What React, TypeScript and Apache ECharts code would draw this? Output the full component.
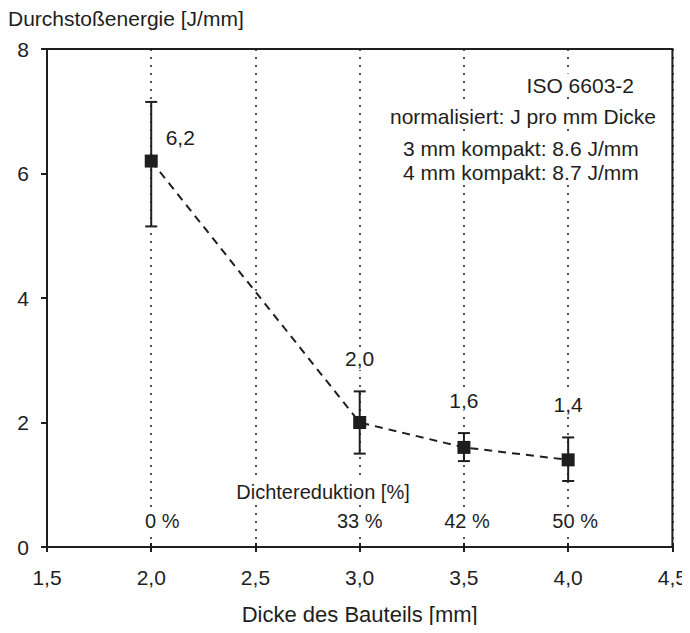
import React, { useEffect, useRef } from "react";
import * as echarts from "echarts";

// Bauteildicke [mm] und normalisierte Durchstoßenergie [J/mm]
const thickness = [2.0, 3.0, 3.5, 4.0];
const energy = [6.2, 2.0, 1.6, 1.4];
const energyLow = [5.15, 1.5, 1.38, 1.06];
const energyHigh = [7.15, 2.5, 1.83, 1.76];

// Dichtereduktion je Dicke
const densityReduction = ["0 %", "33 %", "42 %", "50 %"];
const densityLabelLevel = 0.42;
// horizontal nudge of each reduction label, in px
const densityLabelShift = [11, 0, 3, 7];

const xTicks = { min: 1.5, max: 4.5, interval: 0.5 };
const yTicks = { min: 0, max: 8, interval: 2 };

const notes = [
  "ISO 6603-2",
  "normalisiert: J pro mm Dicke",
  "3 mm kompakt: 8.6 J/mm",
  "4 mm kompakt: 8.7 J/mm",
];

const INK = "#1e1e1e";
const FONT = "Arial";
const comma = (v: number) => v.toFixed(1).replace(".", ",");

const boxedText = (text: string, x: number, y: number, align = "center", size = 21) => ({
  type: "text",
  x,
  y,
  z: 10,
  style: {
    text,
    font: `${size}px ${FONT}`,
    fill: INK,
    align,
    verticalAlign: "middle",
    backgroundColor: "#ffffff",
    padding: [1, 3],
  },
});

export default function App() {
  const ref = useRef<HTMLDivElement>(null);

  useEffect(() => {
    if (!ref.current) return;
    const chart = echarts.init(ref.current, undefined, { renderer: "svg" });

    const errData = thickness.map((x, i) => [x, energyLow[i], energyHigh[i], energy[i]]);

    const option: any = {
      animation: false,
      backgroundColor: "#ffffff",
      textStyle: { fontFamily: FONT, color: INK },
      grid: {
        left: 47,
        right: 17,
        top: 49,
        bottom: 86,
        show: true,
        borderColor: INK,
        borderWidth: 2,
        backgroundColor: "transparent",
      },
      xAxis: [
        {
          type: "value",
          min: xTicks.min,
          max: xTicks.max,
          interval: xTicks.interval,
          name: "Dicke des Bauteils [mm]",
          nameLocation: "middle",
          nameGap: 56,
          nameTextStyle: { fontSize: 22, color: INK, fontFamily: FONT },
          axisLine: { show: true, onZero: false, lineStyle: { color: INK, width: 2 } },
          axisTick: { show: true, inside: false, length: 5, lineStyle: { color: INK, width: 2 } },
          axisLabel: {
            fontSize: 21,
            color: INK,
            fontFamily: FONT,
            margin: 20,
            formatter: (v: number) => comma(v),
          },
          splitLine: {
            show: true,
            lineStyle: { color: INK, width: 1.5, type: [2, 6] },
          },
        },
        {
          type: "value",
          position: "bottom",
          min: xTicks.min,
          max: xTicks.max,
          interval: xTicks.interval,
          axisLine: { show: false },
          axisTick: { show: true, inside: true, length: 4, lineStyle: { color: INK, width: 2 } },
          axisLabel: { show: false },
          splitLine: { show: false },
        },
      ],
      yAxis: {
        type: "value",
        min: yTicks.min,
        max: yTicks.max,
        interval: yTicks.interval,
        axisLine: { show: true, lineStyle: { color: INK, width: 2 } },
        axisTick: { show: true, inside: false, length: 6, lineStyle: { color: INK, width: 2 } },
        axisLabel: { fontSize: 21, color: INK, fontFamily: FONT, margin: 18 },
        splitLine: { show: false },
      },
      series: [
        {
          type: "line",
          data: thickness.map((x, i) => [x, energy[i]]),
          symbol: "none",
          lineStyle: { color: INK, width: 2, type: [8, 6] },
          z: 2,
        },
        {
          type: "custom",
          data: errData,
          z: 3,
          renderItem: (params: any, api: any) => {
            const x = api.value(0);
            const lo = api.coord([x, api.value(1)]);
            const hi = api.coord([x, api.value(2)]);
            const mid = api.coord([x, api.value(3)]);
            const hw = 6;
            const st = { stroke: INK, lineWidth: 2 };
            const first = params.dataIndex === 0;
            const lx = first ? mid[0] + 29 : mid[0];
            const ly = first ? mid[1] - 24 : hi[1] - 33;
            return {
              type: "group",
              children: [
                { type: "line", shape: { x1: hi[0], y1: hi[1], x2: lo[0], y2: lo[1] }, style: st },
                { type: "line", shape: { x1: hi[0] - hw, y1: hi[1], x2: hi[0] + hw, y2: hi[1] }, style: st },
                { type: "line", shape: { x1: lo[0] - hw, y1: lo[1], x2: lo[0] + hw, y2: lo[1] }, style: st },
                {
                  type: "text",
                  style: {
                    x: lx,
                    y: ly,
                    text: comma(api.value(3)),
                    fill: INK,
                    font: `21px ${FONT}`,
                    align: "center",
                    verticalAlign: "middle",
                    backgroundColor: "#ffffff",
                    padding: [1, 2],
                  },
                },
              ],
            };
          },
        },
        {
          type: "scatter",
          data: thickness.map((x, i) => [x, energy[i]]),
          symbol: "rect",
          symbolSize: 13,
          itemStyle: { color: INK, opacity: 1 },
          z: 4,
        },
        {
          type: "scatter",
          data: thickness.map((x, i) => ({
            value: [x, densityLabelLevel],
            label: { offset: [densityLabelShift[i], 0] },
          })),
          symbolSize: 0,
          silent: true,
          itemStyle: { opacity: 1 },
          label: {
            show: true,
            position: "inside",
            formatter: (p: any) => densityReduction[p.dataIndex],
            fontSize: 20,
            color: INK,
            fontFamily: FONT,
            backgroundColor: "#ffffff",
            padding: [1, 3],
          },
          z: 5,
        },
      ],
      graphic: [
        {
          type: "text",
          x: 8,
          y: 18,
          style: {
            text: "Durchstoßenergie [J/mm]",
            font: `21px ${FONT}`,
            fill: INK,
            verticalAlign: "middle",
          },
        },
        boxedText("Dichtereduktion [%]", 323, 492, "center", 20),
        boxedText(notes[0], 637, 85, "right"),
        boxedText(notes[1], 387, 116, "left"),
        boxedText(notes[2], 400, 148, "left"),
        boxedText(notes[3], 400, 172, "left"),
        {
          type: "text",
          x: -13,
          y: 619,
          style: { text: "b)", font: `21px ${FONT}`, fill: INK, verticalAlign: "middle" },
        },
      ],
    };

    chart.setOption(option);
    return () => chart.dispose();
  }, []);

  return <div ref={ref} style={{ width: 690, height: 633, margin: -8 }} />;
}
